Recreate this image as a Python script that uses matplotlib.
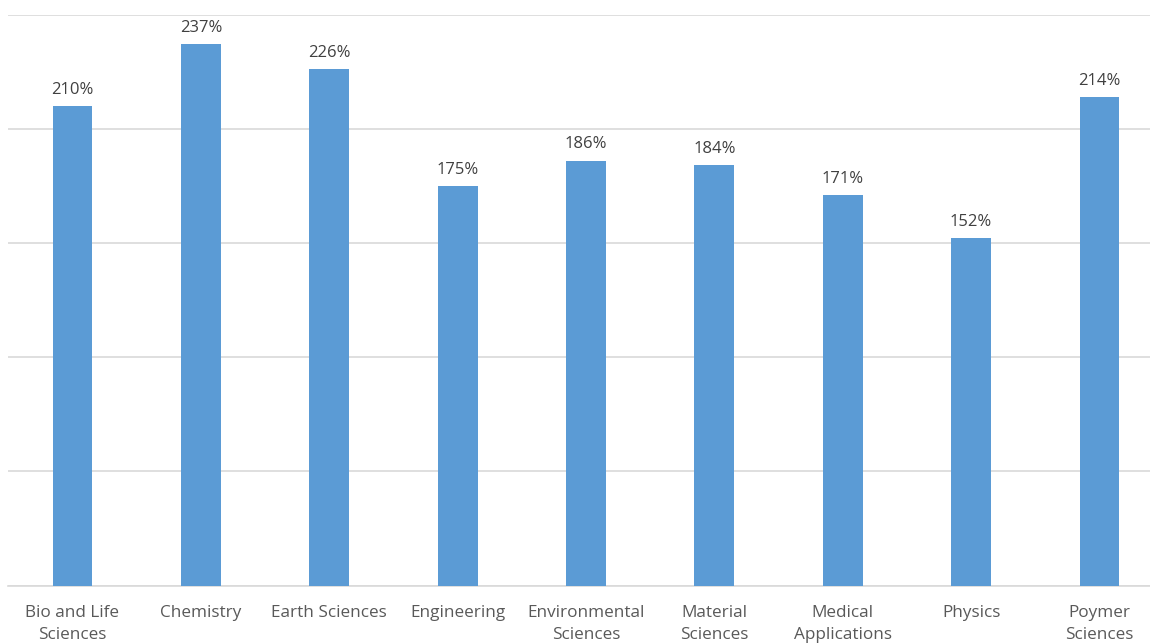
import matplotlib
matplotlib.use("Agg")
import matplotlib.pyplot as plt

categories = ["Bio and Life\nSciences", "Chemistry", "Earth Sciences", "Engineering",
              "Environmental\nSciences", "Material\nSciences", "Medical\nApplications",
              "Physics", "Poymer\nSciences"]
values = [210, 237, 226, 175, 186, 184, 171, 152, 214]
labels = [f"{v}%" for v in values]

plt.rcParams["font.family"] = ["Open Sans", "DejaVu Sans"]

W, H = 1150, 643
fig = plt.figure(figsize=(W / 100, H / 100), dpi=100)
left, right = 8.3 / W, 1163.7 / W
bottom, top = (H - 585.5) / H, (H - 14.7) / H
ax = fig.add_axes([left, bottom, right - left, top - bottom])

x = range(len(values))
bars = ax.bar(x, values, width=0.31, color="#5b9bd5", zorder=3)
ax.bar_label(bars, labels=labels, padding=6, fontsize=12, color="#404040")

ax.set_xlim(-0.5, len(values) - 0.5)
ax.set_ylim(0, 250)
ax.set_yticks([0, 50, 100, 150, 200, 250])
ax.yaxis.grid(True, color="#d9d9d9", linewidth=1.2, zorder=0)
ax.tick_params(axis="y", left=False, labelleft=False)
ax.set_xticks(list(x))
ax.set_xticklabels(categories, fontsize=12.3, color="#595959", linespacing=1.5)
ax.tick_params(axis="x", length=0, pad=14)
for s in ["top", "left", "right"]:
    ax.spines[s].set_visible(False)
ax.spines["bottom"].set_color("#d9d9d9")
ax.spines["bottom"].set_linewidth(1.2)

fig.savefig("out.png", dpi=100)
